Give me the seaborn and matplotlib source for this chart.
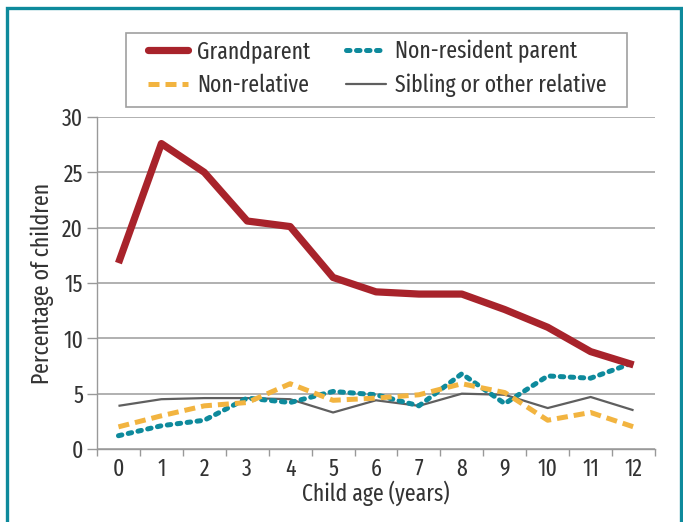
import pandas as pd
import numpy as np
import matplotlib.pyplot as plt
import seaborn as sns
from matplotlib.lines import Line2D
from matplotlib.patches import Rectangle

ages = list(range(13))
grandparent = [16.8, 27.6, 25.0, 20.6, 20.1, 15.5, 14.2, 14.0, 14.0, 12.6, 11.0, 8.8, 7.6]
non_resident = [1.2, 2.1, 2.6, 4.6, 4.2, 5.2, 4.9, 3.9, 6.8, 4.1, 6.6, 6.4, 7.8]
non_relative = [2.0, 3.0, 3.9, 4.2, 5.9, 4.4, 4.6, 4.9, 5.9, 5.1, 2.6, 3.3, 2.0]
sibling = [3.9, 4.5, 4.6, 4.6, 4.5, 3.3, 4.4, 3.9, 5.0, 4.9, 3.7, 4.7, 3.5]

sns.set_theme(style='white')
plt.rcParams['font.family'] = ['Fira Sans Extra Condensed', 'DejaVu Sans']

W, H = 683, 522
fig = plt.figure(figsize=(6.83, 5.22), dpi=100)
ax = fig.add_axes([97 / W, 1 - 449 / H, 558 / W, 332 / H])

series = [
    ('Grandparent', grandparent, '#a8232b', '-', 5.2),
    ('Non-relative', non_relative, '#f2b440', (0, (2.2, 1.2)), 3.6),
    ('Non-resident parent', non_resident, '#0e8a9c', (0, (0.7, 1.3)), 3.6),
    ('Sibling or other relative', sibling, '#5f5f5f', '-', 1.6),
]

# draw background lines first, grandparent on top
for name, vals, color, ls, lw in series[::-1]:
    df = pd.DataFrame({'age': ages, 'pct': vals})
    sns.lineplot(data=df, x='age', y='pct', ax=ax, color=color, linewidth=lw,
                 linestyle=ls, solid_capstyle='butt',
                 dash_capstyle='round' if name == 'Non-resident parent' else 'butt')

ax.set_xlim(-0.5, 12.5)
ax.set_ylim(0, 30)
ax.set_yticks(range(0, 31, 5))
ax.set_xticks(ages)
ax.set_xticks(np.arange(-0.5, 13, 1), minor=True)
ax.tick_params(axis='x', which='major', length=0, labelsize=17, pad=6, colors='#333333')
ax.tick_params(axis='x', which='minor', length=5, width=1, color='#999999', bottom=True)
ax.tick_params(axis='y', length=7, width=1, color='#999999', left=True, labelsize=17,
               pad=3, labelcolor='#333333')
ax.yaxis.grid(True, color='#aaaaaa', linewidth=1.3)
ax.set_axisbelow(True)
for s in ['top', 'right']:
    ax.spines[s].set_visible(False)
for s in ['left', 'bottom']:
    ax.spines[s].set_color('#999999')
    ax.spines[s].set_linewidth(1)

ax.set_xlabel('Child age (years)', fontsize=17, color='#333333', labelpad=0)
ax.set_ylabel('Percentage of children', fontsize=17, color='#333333', labelpad=6)

handles = [Line2D([0], [0], color=c, linestyle=ls, linewidth=lw,
                  dash_capstyle='round' if n == 'Non-resident parent' else 'butt')
           for n, v, c, ls, lw in series]
labels = [n for n, *_ in series]
leg = fig.legend(handles, labels, ncol=2, loc='upper left',
                 bbox_to_anchor=(148 / W, 1 - 40 / H), fontsize=17, frameon=False,
                 handlelength=1.7, columnspacing=1.5, handletextpad=0.38,
                 borderpad=0, borderaxespad=0, labelspacing=0.45)
for t in leg.get_texts():
    t.set_color('#333333')

# legend box
fig.patches.append(Rectangle((126 / W, 1 - 107 / H), 501 / W, 74 / H,
                             transform=fig.transFigure, fill=False,
                             edgecolor='#a0a0a0', linewidth=1.2))

# outer frame
fig.patches.append(Rectangle((7 / W, -0.05), 674 / W, 1.05 - 8 / H,
                             transform=fig.transFigure, fill=False,
                             edgecolor='#0e8a9c', linewidth=2.4))

fig.savefig('out.png', dpi=100)
